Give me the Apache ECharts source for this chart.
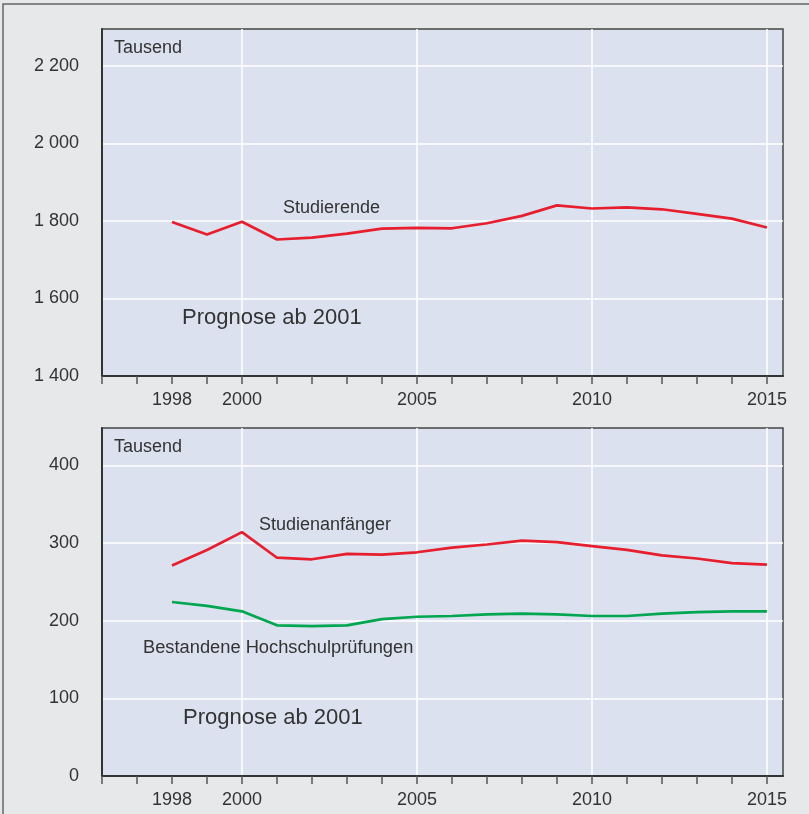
<!doctype html>
<html lang="de">
<head>
    <meta charset="UTF-8">
    <script src="https://cdn.jsdelivr.net/npm/echarts@6/dist/echarts.min.js"></script>
    <title>Studierende, Studienanfänger und Prüfungen</title>
    <style>
        html, body { margin: 0; padding: 0; background: #e7e8ea; }
    </style>
</head>
<body>
<div id="main" style="width: 809px;height:814px;"></div>
<script>
    // Jahre auf der x-Achse
    var years = [1998, 1999, 2000, 2001, 2002, 2003, 2004, 2005, 2006,
        2007, 2008, 2009, 2010, 2011, 2012, 2013, 2014, 2015];
    var tickYears = [1996, 1997, 1998, 1999, 2000, 2001, 2002, 2003, 2004, 2005,
        2006, 2007, 2008, 2009, 2010, 2011, 2012, 2013, 2014, 2015];
    var labelYears = [1998, 2000, 2005, 2010, 2015];
    var gridYears = [2000, 2005, 2010, 2015];

    // Tausend
    var studierende = [1797, 1765, 1798, 1752, 1757, 1767, 1780, 1782, 1781,
        1794, 1813, 1840, 1832, 1835, 1830, 1818, 1806, 1783];
    var studienanfaenger = [271, 291, 314, 281, 279, 286, 285, 288, 294,
        298, 303, 301, 296, 291, 284, 280, 274, 272];
    var pruefungen = [224, 219, 212, 194, 193, 194, 202, 205, 206,
        208, 209, 208, 206, 206, 209, 211, 212, 212];

    var topTicks = [1400, 1600, 1800, 2000, 2200];
    var bottomTicks = [0, 100, 200, 300, 400];

    var font = 'Liberation Sans, Arial, sans-serif';
    var textColor = '#333';

    // 2200 -> "2 200"
    function fmt(v) {
        if (v >= 1000) {
            var r = String(v % 1000);
            while (r.length < 3) r = '0' + r;
            return Math.floor(v / 1000) + ' ' + r;
        }
        return String(v);
    }

    function pairs(vals) {
        var out = [];
        for (var i = 0; i < years.length; i++) out.push([years[i], vals[i]]);
        return out;
    }

    function mainX(idx) {
        return {
            type: 'value', gridIndex: idx, min: 1996, max: 2015.46,
            axisLine: {show: true, onZero: false, lineStyle: {color: '#333', width: 2}},
            axisTick: {show: true, length: 8, customValues: tickYears, lineStyle: {color: '#555', width: 1.5}},
            axisLabel: {
                customValues: labelYears, margin: 15, color: textColor, fontSize: 18, fontFamily: font,
                formatter: function (v) { return String(v); }
            },
            splitLine: {show: false}
        };
    }
    // nur fuer die senkrechten weissen Linien
    function gridX(idx) {
        return {
            type: 'value', gridIndex: idx, min: 1996, max: 2015.46,
            axisLine: {show: false},
            axisTick: {show: false, customValues: gridYears},
            axisLabel: {show: false},
            splitLine: {show: true, lineStyle: {color: '#fff', width: 1.5}}
        };
    }
    function yAx(idx, min, max, ticks) {
        return {
            type: 'value', gridIndex: idx, min: min, max: max,
            axisLine: {show: true, lineStyle: {color: '#333', width: 2}},
            axisTick: {show: false, customValues: ticks},
            axisLabel: {customValues: ticks, margin: 23, color: textColor, fontSize: 18, fontFamily: font, formatter: fmt},
            splitLine: {show: true, lineStyle: {color: '#fff', width: 1.5}}
        };
    }
    function txt(x, y, s, size) {
        return {
            type: 'text', left: x, top: y - size * 0.5, z: 50,
            style: {text: s, fill: textColor, fontSize: size, fontFamily: font}
        };
    }

    var myChart = echarts.init(document.getElementById('main'));
    var option = {
        animation: false,
        backgroundColor: '#e7e8ea',
        grid: [
            {left: 102, right: 26, top: 29, height: 347, show: true, backgroundColor: '#dce1f0', borderColor: '#444', borderWidth: 1.5},
            {left: 102, right: 26, top: 428, height: 348, show: true, backgroundColor: '#dce1f0', borderColor: '#444', borderWidth: 1.5}
        ],
        xAxis: [mainX(0), gridX(0), mainX(1), gridX(1)],
        yAxis: [yAx(0, 1400, 2295, topTicks), yAx(1, 0, 448, bottomTicks)],
        graphic: [
            {
                type: 'rect', z: -10, silent: true,
                shape: {x: 3, y: 4, width: 830, height: 830},
                style: {fill: '#e7e8ea', stroke: '#666', lineWidth: 1.5}
            },
            txt(114, 48, 'Tausend', 18),
            txt(283, 208, 'Studierende', 18),
            txt(182, 318, 'Prognose ab 2001', 22),
            txt(114, 447, 'Tausend', 18),
            txt(259, 525, 'Studienanfänger', 18),
            txt(143, 648, 'Bestandene Hochschulprüfungen', 18.3),
            txt(183, 718, 'Prognose ab 2001', 22)
        ],
        series: [
            {
                type: 'line', xAxisIndex: 0, yAxisIndex: 0, data: pairs(studierende),
                showSymbol: false, lineStyle: {color: '#e61e2d', width: 2.7}, z: 10
            },
            {
                type: 'line', xAxisIndex: 2, yAxisIndex: 1, data: pairs(studienanfaenger),
                showSymbol: false, lineStyle: {color: '#e61e2d', width: 2.7}, z: 10
            },
            {
                type: 'line', xAxisIndex: 2, yAxisIndex: 1, data: pairs(pruefungen),
                showSymbol: false, lineStyle: {color: '#00a650', width: 2.7}, z: 10
            }
        ]
    };
    myChart.setOption(option);
</script>
</body>
</html>
